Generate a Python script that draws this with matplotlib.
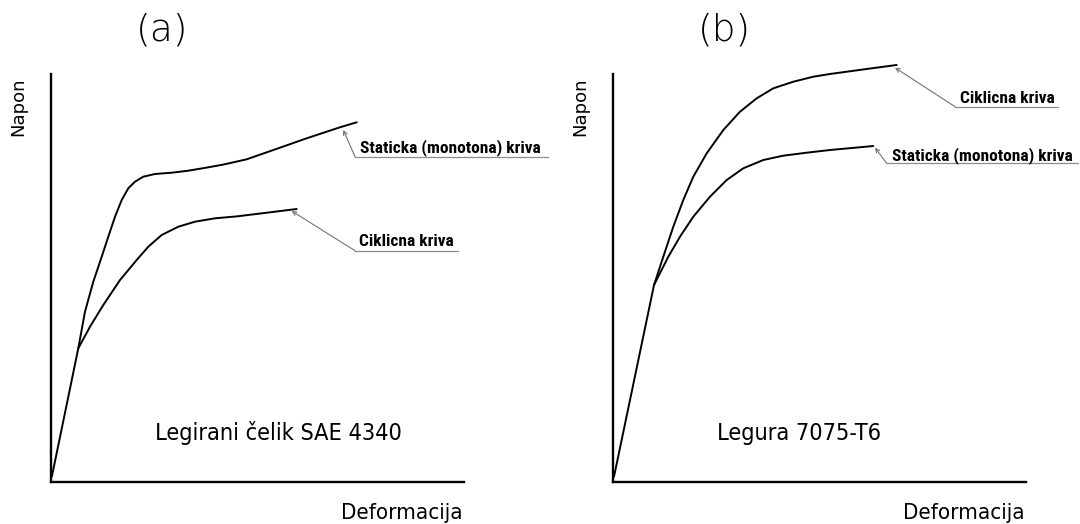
import matplotlib
matplotlib.use("Agg")
import matplotlib.pyplot as plt

# ---------------- data (normalized strain / stress units) ----------------
# Panel (a): Legirani čelik SAE 4340
a_static_x = [0.2, 6.61, 8.23, 10.24, 12.28, 13.87, 15.50, 17.12, 18.72, 20.34,
              22.35, 25.18, 29.23, 33.24, 38.09, 41.72, 47.38, 53.83, 61.91,
              69.98, 74.02]
a_static_y = [1.3, 32.77, 41.74, 49.09, 55.22, 60.12, 65.02, 69.12, 71.99, 73.60,
              74.83, 75.49, 75.81, 76.30, 77.13, 77.80, 79.09, 81.37, 84.24,
              86.94, 88.16]
a_cyclic_x = [6.61, 9.44, 12.66, 16.71, 20.75, 23.56, 26.80, 30.82, 34.87, 39.71,
              44.96, 53.03, 59.49]
a_cyclic_y = [32.77, 38.06, 43.38, 49.51, 54.41, 57.67, 60.54, 62.57, 63.80, 64.63,
              65.10, 66.10, 66.91]

# Panel (b): Legura 7075-T6
b_cyclic_x = [0.24, 9.93, 12.18, 14.60, 17.02, 19.44, 22.69, 26.71, 30.75, 34.79,
              38.81, 43.66, 48.50, 52.54, 61.43, 68.69]
b_cyclic_y = [1.3, 48.28, 55.22, 62.57, 69.12, 74.83, 80.56, 86.27, 90.76, 94.04,
              96.49, 98.11, 99.34, 100.0, 101.23, 102.21]
b_static_x = [9.93, 13.39, 16.22, 19.44, 23.49, 27.53, 31.55, 36.39, 41.23, 46.90,
              52.54, 63.03]
b_static_y = [48.28, 55.22, 60.12, 65.02, 69.93, 74.02, 76.89, 78.92, 79.98, 80.71,
              81.37, 82.35]

panel_labels = ["(a)", "(b)"]
materials = ["Legirani čelik SAE 4340", "Legura 7075-T6"]
y_label = "Napon"
x_label = "Deformacija"
lbl_static = "Staticka (monotona) kriva"
lbl_cyclic = "Ciklicna kriva"

# ---------------- figure ----------------
W, H = 1080, 524
fig = plt.figure(figsize=(W / 100, H / 100), dpi=100)
fig.patch.set_facecolor("white")


def fx(px):
    return px / W


def fy(py):
    return 1 - py / H


axes_left = [51, 613]
ax_w, ax_top, ax_bot = 413, 74, 482

axs = []
for left in axes_left:
    ax = fig.add_axes([fx(left), fy(ax_bot), ax_w / W, (ax_bot - ax_top) / H])
    ax.set_xlim(0, 100)
    ax.set_ylim(0, 100)
    for s in ["top", "right"]:
        ax.spines[s].set_visible(False)
    for s in ["left", "bottom"]:
        ax.spines[s].set_linewidth(1.7)
        ax.spines[s].set_color("black")
    ax.set_xticks([])
    ax.set_yticks([])
    ax.patch.set_alpha(0)
    axs.append(ax)

curve_kw = dict(color="black", lw=1.4, clip_on=False, solid_capstyle="round",
                solid_joinstyle="round", antialiased=True)
axs[0].plot(a_static_x, a_static_y, **curve_kw)
axs[0].plot(a_cyclic_x, a_cyclic_y, **curve_kw)
axs[1].plot(b_cyclic_x, b_cyclic_y, **curve_kw)
axs[1].plot(b_static_x, b_static_y, **curve_kw)


def leader(ax, label, tip, elbow, end_x, text_xy):
    ax.annotate("", xy=tip, xytext=elbow, annotation_clip=False,
                arrowprops=dict(arrowstyle="->", color="0.45", lw=0.8,
                                shrinkA=0, shrinkB=0, mutation_scale=7))
    ax.plot([elbow[0], end_x], [elbow[1], elbow[1]], color="0.55", lw=0.9,
            clip_on=False)
    ax.text(text_xy[0], text_xy[1], label, family="Roboto Condensed",
            fontweight="bold", fontsize=12.5, ha="left", va="baseline",
            clip_on=False)


leader(axs[0], lbl_static, (70.77, 86.27), (73.61, 79.73), 120.41, (74.8, 80.9))
leader(axs[0], lbl_cyclic, (58.28, 66.42), (73.61, 56.69), 98.62, (74.6, 57.8))
leader(axs[1], lbl_cyclic, (68.28, 101.54), (82.81, 91.99), 107.82, (84.0, 93.0))
leader(axs[1], lbl_static, (63.44, 81.94), (66.27, 78.11), 112.59, (67.5, 78.9))

cond = dict(family="DejaVu Sans", fontstretch="condensed")
for i, left in enumerate(axes_left):
    off = left - axes_left[0]
    fig.text(fx(162 + off), fy(30), panel_labels[i], family="DejaVu Sans",
             fontweight=200, fontsize=27, ha="center", va="center")
    fig.text(fx(18 + off), fy(107), y_label, family="DejaVu Sans",
             fontsize=13, rotation=90, ha="center", va="center")
    fig.text(fx(463 + off), fy(519), x_label, fontsize=16, ha="right",
             va="baseline", **cond)

fig.text(fx(155), fy(440), materials[0], fontsize=16.8, ha="left",
         va="baseline", **cond)
fig.text(fx(717), fy(440), materials[1], fontsize=16.8, ha="left",
         va="baseline", **cond)

fig.savefig("out.png", dpi=100, facecolor="white")
